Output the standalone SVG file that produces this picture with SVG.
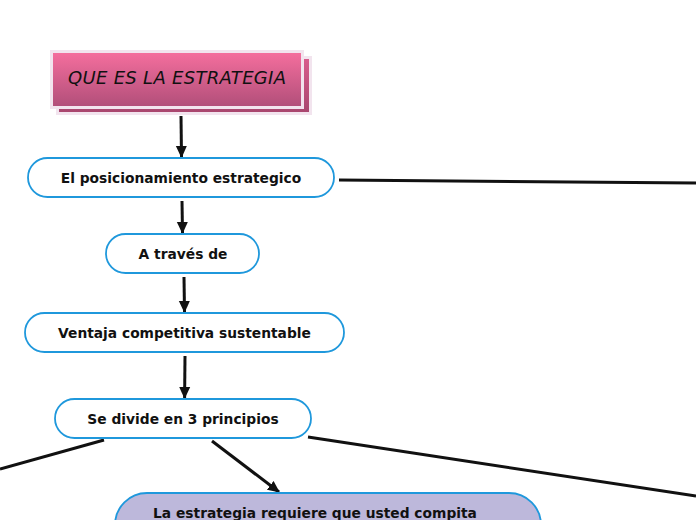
<svg xmlns="http://www.w3.org/2000/svg" width="696" height="520" viewBox="0 0 696 520">
<defs>
<linearGradient id="pink" x1="0" y1="0" x2="0" y2="1">
<stop offset="0" stop-color="#f46e9d"/>
<stop offset="1" stop-color="#b24f7a"/>
</linearGradient>
<linearGradient id="pinkback" x1="0" y1="0" x2="0" y2="1">
<stop offset="0" stop-color="#d85c8c"/>
<stop offset="1" stop-color="#a9476f"/>
</linearGradient>
<marker id="arr" markerUnits="userSpaceOnUse" markerWidth="12" markerHeight="12" viewBox="0 0 12 12" refX="11" refY="6" orient="auto">
<path d="M0,0.5 L12,6 L0,11.5 Z" fill="#111"/>
</marker>
<style>
.node{fill:#fff;stroke:#1f98dc;stroke-width:1.8}
.purple{fill:#bdb8db;stroke:#1f98dc;stroke-width:1.8}
.lbl{font-family:"DejaVu Sans",Verdana,sans-serif;font-weight:bold;font-size:13.8px;fill:#111;text-anchor:middle;dominant-baseline:central}
.conn line{stroke:#111;stroke-width:3;fill:none}
.title{font-family:"DejaVu Sans",sans-serif;font-style:italic;font-size:18px;fill:#111;text-anchor:middle}
</style>
</defs>
<g id="title">
<rect x="56" y="56" width="256" height="59" fill="#f2e4ee"/>
<rect x="59" y="59" width="250" height="53" fill="url(#pinkback)"/>
<rect x="50" y="50" width="254" height="59" fill="#f2e4ee"/>
<rect x="53" y="53" width="248" height="53" fill="url(#pink)"/>
<text class="title" x="177" y="84" textLength="218" lengthAdjust="spacing">QUE ES LA ESTRATEGIA</text>
</g>
<g id="connectors" class="conn">
<line x1="181" y1="116" x2="181.5" y2="157" marker-end="url(#arr)"/>
<line x1="182" y1="201" x2="182.5" y2="233" marker-end="url(#arr)"/>
<line x1="184" y1="277" x2="184.5" y2="312" marker-end="url(#arr)"/>
<line x1="185" y1="356" x2="184.6" y2="398" marker-end="url(#arr)"/>
<line x1="212" y1="441" x2="279" y2="492" marker-end="url(#arr)"/>
<line x1="104" y1="440" x2="0" y2="469"/>
<line x1="308" y1="437" x2="696" y2="496"/>
<line x1="339" y1="180" x2="696" y2="183"/>
</g>
<g id="n1">
<rect class="node" x="28" y="158" width="306" height="39" rx="19.5"/>
<text class="lbl" x="181" y="178">El posicionamiento estrategico</text>
</g>
<g id="n2">
<rect class="node" x="106" y="234" width="153" height="39" rx="19.5"/>
<text class="lbl" x="183" y="254">A través de</text>
</g>
<g id="n3">
<rect class="node" x="25" y="313" width="319" height="39" rx="19.5"/>
<text class="lbl" x="184.5" y="333">Ventaja competitiva sustentable</text>
</g>
<g id="n4">
<rect class="node" x="55" y="399" width="256" height="39" rx="19.5"/>
<text class="lbl" x="183" y="419">Se divide en 3 principios</text>
</g>
<g id="n5">
<rect class="purple" x="115" y="493" width="426" height="80" rx="32"/>
<text class="lbl" x="315" y="513">La estrategia requiere que usted compita</text>
</g>
</svg>
